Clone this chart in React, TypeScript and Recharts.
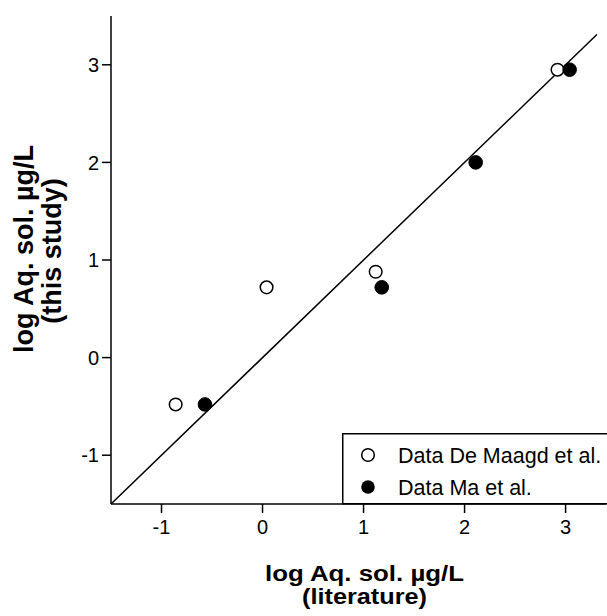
import React from 'react';
import { ScatterChart, Scatter, XAxis, YAxis, ReferenceLine, Legend, Label } from 'recharts';

// Data
const deMaagdX = [-0.86, 0.04, 1.12, 2.92];
const deMaagdY = [-0.48, 0.72, 0.88, 2.95];
const maX = [-0.57, 1.18, 2.11, 3.04];
const maY = [-0.48, 0.72, 2.0, 2.95];
const xTicks = [-1, 0, 1, 2, 3];
const yTicks = [-1, 0, 1, 2, 3];
const xDomain = [-1.5, 3.4];
const yDomain = [-1.5, 3.5];
const lineStart = -1.5;
const lineEnd = 3.31;
const seriesNames = ['Data De Maagd et al.', 'Data Ma et al.'];
const xTitle = ['log Aq. sol. µg/L', '(literature)'];
const yTitle = ['log Aq. sol. µg/L', '(this study)'];

const deMaagd = deMaagdX.map((x, i) => ({ x, y: deMaagdY[i] }));
const ma = maX.map((x, i) => ({ x, y: maY[i] }));

const FONT = "Arial, 'Liberation Sans', Helvetica, sans-serif";

const OpenDot = (p: any) => (
  <circle cx={p.cx} cy={p.cy} r={6.3} fill="#fff" stroke="#000" strokeWidth={1.5} />
);
const FilledDot = (p: any) => (
  <circle cx={p.cx} cy={p.cy} r={6.8} fill="#000" stroke="#000" strokeWidth={1} />
);

const XTitle = () => (
  <g>
    <text x={364.5} y={580.5} textAnchor="middle" fontFamily={FONT} fontWeight="bold" fontSize={22}
      textLength={199} lengthAdjust="spacingAndGlyphs" fill="#000">{xTitle[0]}</text>
    <text x={364.5} y={604} textAnchor="middle" fontFamily={FONT} fontWeight="bold" fontSize={22}
      textLength={125} lengthAdjust="spacingAndGlyphs" fill="#000">{xTitle[1]}</text>
  </g>
);

const YTitle = () => (
  <g transform="rotate(-90)">
    <text x={-249} y={33} textAnchor="middle" fontFamily={FONT} fontWeight="bold" fontSize={27} fill="#000">{yTitle[0]}</text>
    <text x={-251} y={61} textAnchor="middle" fontFamily={FONT} fontWeight="bold" fontSize={27} fill="#000">{yTitle[1]}</text>
  </g>
);

const LegendBox = () => (
  <svg width={265} height={72} style={{ display: 'block', overflow: 'visible' }}>
    <rect x={0.75} y={0.75} width={270} height={70} fill="#fff" stroke="#000" strokeWidth={1.5} />
    <circle cx={26} cy={22} r={6.3} fill="#fff" stroke="#000" strokeWidth={1.5} />
    <circle cx={26} cy={54} r={6.8} fill="#000" />
    <text x={56} y={30} fontFamily={FONT} fontSize={21.5} fill="#000">{seriesNames[0]}</text>
    <text x={56} y={62} fontFamily={FONT} fontSize={21.5} fill="#000">{seriesNames[1]}</text>
  </svg>
);

export default function App() {
  return (
    <div style={{ position: 'absolute', left: 0, top: 0, width: 607, height: 616, background: '#fff', overflow: 'hidden' }}>
      <ScatterChart width={607} height={616} margin={{ top: 16, right: 1, bottom: 0, left: 0 }}>
        <XAxis
          type="number"
          dataKey="x"
          domain={xDomain}
          ticks={xTicks}
          allowDataOverflow
          height={112}
          tickSize={9}
          tickMargin={7}
          axisLine={{ stroke: '#000', strokeWidth: 1.5 }}
          tickLine={{ stroke: '#000', strokeWidth: 1.5 }}
          tick={{ fill: '#000', fontSize: 20, fontFamily: FONT }}
        >
          <Label content={XTitle} />
        </XAxis>
        <YAxis
          type="number"
          dataKey="y"
          domain={yDomain}
          ticks={yTicks}
          allowDataOverflow
          width={111}
          tickSize={9}
          tickMargin={3}
          axisLine={{ stroke: '#000', strokeWidth: 1.5 }}
          tickLine={{ stroke: '#000', strokeWidth: 1.5 }}
          tick={{ fill: '#000', fontSize: 20, fontFamily: FONT }}
        >
          <Label content={YTitle} />
        </YAxis>
        <ReferenceLine
          segment={[{ x: lineStart, y: lineStart }, { x: lineEnd, y: lineEnd }]}
          stroke="#000"
          strokeWidth={1.5}
        />
        <Scatter name={seriesNames[0]} data={deMaagd} shape={OpenDot} isAnimationActive={false} />
        <Scatter name={seriesNames[1]} data={ma} shape={FilledDot} isAnimationActive={false} />
        <Legend
          layout="vertical"
          align="center"
          verticalAlign="middle"
          content={LegendBox}
          wrapperStyle={{ left: 342, top: 433, width: 265, height: 72 }}
        />
      </ScatterChart>
    </div>
  );
}
